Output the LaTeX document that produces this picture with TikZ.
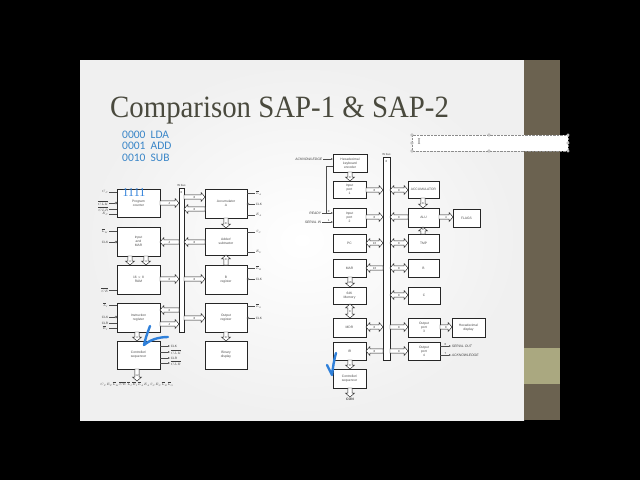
\RequirePackage{fix-cm}
\documentclass[tikz,border=0pt]{standalone}
\usepackage{fontspec}
\usetikzlibrary{arrows.meta,calc}
\newfontfamily\titlefont{Liberation Serif}
\newfontfamily\calib{Carlito}
\newfontfamily\diag{Liberation Sans}
\definecolor{titlecol}{HTML}{4A4A3E}
\definecolor{bluetxt}{HTML}{3A86C8}
\definecolor{penblue}{HTML}{2F80DA}
\definecolor{bandbrown}{HTML}{6B6250}
\definecolor{bandkhaki}{HTML}{AAA880}
\tikzset{
  box/.style={draw=black!85, line width=0.5pt, inner sep=0pt, outer sep=0pt, align=center,
    font=\diag\fontsize{3.3}{3.9}\selectfont, text=black!70, fill=white},
  hol/.style={draw=black!85, fill=white, line width=0.45pt, line join=miter},
  lab/.style={font=\diag\fontsize{2.9}{3}\selectfont, text=black!75, inner sep=0pt},
  sig/.style={font=\diag\fontsize{3.2}{3.5}\selectfont, inner sep=0.6pt, text=black!75},
  sline/.style={draw=black!70, line width=0.4pt},
  pen/.style={draw=penblue, line width=2.4pt, line cap=round, line join=round}
}
% hollow arrows: horizontal / vertical, single / double headed
\newcommand{\harH}[3]{\path[hol] let \p1=(#1), \p2=(#2), \n1={(\x2-\x1)/abs(\x2-\x1)} in
  (\x1,\y1+2.2pt) -- ({\x2-\n1*3.8pt},\y1+2.2pt) -- ({\x2-\n1*3.8pt},\y1+4.4pt) -- (\x2,\y1)
  -- ({\x2-\n1*3.8pt},\y1-4.4pt) -- ({\x2-\n1*3.8pt},\y1-2.2pt) -- (\x1,\y1-2.2pt) -- cycle
  ({(\x1+\x2)/2},\y1) node[lab]{#3};}
\newcommand{\darH}[3]{\path[hol] let \p1=(#1), \p2=(#2), \n1={(\x2-\x1)/abs(\x2-\x1)} in
  ({\x1+\n1*3.8pt},\y1+2.2pt) -- ({\x2-\n1*3.8pt},\y1+2.2pt) -- ({\x2-\n1*3.8pt},\y1+4.4pt) -- (\x2,\y1)
  -- ({\x2-\n1*3.8pt},\y1-4.4pt) -- ({\x2-\n1*3.8pt},\y1-2.2pt) -- ({\x1+\n1*3.8pt},\y1-2.2pt)
  -- ({\x1+\n1*3.8pt},\y1-4.4pt) -- (\x1,\y1) -- ({\x1+\n1*3.8pt},\y1+4.4pt) -- cycle
  ({(\x1+\x2)/2},\y1) node[lab]{#3};}
\newcommand{\harV}[3]{\path[hol] let \p1=(#1), \p2=(#2), \n1={(\y2-\y1)/abs(\y2-\y1)} in
  (\x1+2.2pt,\y1) -- (\x1+2.2pt,{\y2-\n1*3.8pt}) -- (\x1+4.4pt,{\y2-\n1*3.8pt}) -- (\x1,\y2)
  -- (\x1-4.4pt,{\y2-\n1*3.8pt}) -- (\x1-2.2pt,{\y2-\n1*3.8pt}) -- (\x1-2.2pt,\y1) -- cycle
  (\x1,{(\y1+\y2)/2+\n1*0.8pt}) node[lab]{#3};}
\newcommand{\darV}[3]{\path[hol] let \p1=(#1), \p2=(#2), \n1={(\y2-\y1)/abs(\y2-\y1)} in
  (\x1+2.2pt,{\y1+\n1*3.8pt}) -- (\x1+2.2pt,{\y2-\n1*3.8pt}) -- (\x1+4.4pt,{\y2-\n1*3.8pt}) -- (\x1,\y2)
  -- (\x1-4.4pt,{\y2-\n1*3.8pt}) -- (\x1-2.2pt,{\y2-\n1*3.8pt}) -- (\x1-2.2pt,{\y1+\n1*3.8pt})
  -- (\x1-4.4pt,{\y1+\n1*3.8pt}) -- (\x1,\y1) -- (\x1+4.4pt,{\y1+\n1*3.8pt}) -- cycle
  (\x1,{(\y1+\y2)/2}) node[lab]{#3};}
\newcommand{\bx}[6]{\node[box, minimum width={(#4-#2)*1pt}, minimum height={(#5-#3)*1pt}] (#1) at ({(#2+#4)/2},{(#3+#5)/2}) {#6};}
\newcommand{\sigL}[3]{\draw[sline] (#1.west |- 0,#2) -- ++(-8,0) node[sig,left]{#3};}
\newcommand{\sigLc}[3]{\draw[sline] (#1.west |- 0,#2) ++(-2.2,0) -- ++(-5.8,0) node[sig,left]{#3}; \draw[sline] (#1.west |- 0,#2) ++(-1.1,0) circle (1.1);}
\newcommand{\sigR}[3]{\draw[sline] (#1.east |- 0,#2) -- ++(8,0) node[sig,right]{#3};}
\newcommand{\sigRc}[3]{\draw[sline] (#1.east |- 0,#2) ++(2.2,0) -- ++(5.8,0) node[sig,right]{#3}; \draw[sline] (#1.east |- 0,#2) ++(1.1,0) circle (1.1);}
\begin{document}
\begin{tikzpicture}[x=1pt,y=-1pt]
\useasboundingbox (0,0) rectangle (640,480);
\fill[black] (0,0) rectangle (640,480);
% slide
\shade[inner color=white, outer color=black!6] (80,60) rectangle (524,420);
\fill[bandbrown] (524,60) rectangle (560,420);
\fill[bandkhaki] (524,348) rectangle (560,384);
% title
\node[anchor=base west, inner sep=0pt, text=titlecol, font=\titlefont\fontsize{31}{34}\selectfont] (title) at (110,117) {\scalebox{0.93}[1]{Comparison SAP-1 \& SAP-2}};
% blue notes
\node[anchor=north west, inner sep=0pt, text=bluetxt, align=left, font=\calib\fontsize{11.5}{11.7}\selectfont] (notes) at (122,130.5) {0000\ \ LDA\\0001\ \ ADD\\0010\ \ SUB};
% text box placeholder
\draw[densely dotted, draw=black!45, line width=0.4pt, fill=white] (412,135) rectangle (568,151);
\foreach \hx/\hy in {412/135,489/135,568/135,412/143,568/143,412/151,489/151,568/151}
  \draw[black!45, fill=white, line width=0.3pt] (\hx,\hy) circle (1.3);
\node[inner sep=0pt, text=black!55, font=\titlefont\fontsize{9}{9}\selectfont] (cursor) at (419,142) {I};

% ================= SAP-1 =================
\bx{pc}{117}{189}{160}{217}{Program\\counter}
\bx{mar}{117}{227}{160}{256}{Input\\and\\MAR}
\bx{ram}{117}{265}{160}{294}{16 $\times$ 8\\RAM}
\bx{ir}{117}{303}{160}{332}{Instruction\\register}
\bx{cs}{117}{341}{160}{369}{Controller/\\sequencer}
\bx{acc}{205}{189}{247}{218}{Accumulator\\A}
\bx{add}{205}{228}{247}{255}{Adder/\\subtractor}
\bx{breg}{205}{265}{247}{294}{B\\register}
\bx{outr}{205}{303}{247}{332}{Output\\register}
\bx{disp}{205}{341}{247}{369}{Binary\\display}
\node[box, minimum width=5pt, minimum height=144pt] (bus) at (181.5,260) {};
\node[lab, anchor=south] (buslab) at (181.5,187) {W bus};
\node[lab] (bustop) at (181.5,192) {8};

\harH{pc.east |- 0,203}{bus.west |- 0,203}{4}
\harH{bus.west |- 0,242}{mar.east |- 0,242}{4}
\harV{130,0 |- mar.south}{130,0 |- ram.north}{4}
\harV{146,0 |- mar.south}{146,0 |- ram.north}{4}
\harH{ram.east |- 0,279}{bus.west |- 0,279}{8}
\harH{bus.west |- 0,310}{ir.east |- 0,310}{8}
\harH{ir.east |- 0,324}{bus.west |- 0,324}{4}
\harV{137,0 |- ir.south}{137,0 |- cs.north}{4}
\node[sig, anchor=north] (ctw) at (137,381) {$C_PE_P\overline{L}_M\overline{CE}\;\overline{L}_I\overline{E}_I\overline{L}_AE_AS_UE_U\overline{L}_B\overline{L}_O$};
\harV{137,0 |- cs.south}{ctw.north}{12}
\harH{bus.east |- 0,197}{acc.west |- 0,197}{8}
\harH{acc.west |- 0,209}{bus.east |- 0,209}{8}
\harV{226,0 |- acc.south}{226,0 |- add.north}{8}
\harH{add.west |- 0,242}{bus.east |- 0,242}{8}
\harV{226,0 |- breg.north}{226,0 |- add.south}{8}
\harH{bus.east |- 0,279}{breg.west |- 0,279}{8}
\harH{bus.east |- 0,318}{outr.west |- 0,318}{8}
\harV{226,0 |- outr.south}{226,0 |- disp.north}{8}

\sigL{pc}{192}{$C_P$}
\sigLc{pc}{203}{$\overline{CLK}$}
\sigL{pc}{209}{$\overline{CLR}$}
\sigL{pc}{214}{$E_P$}
\sigL{mar}{231}{$\overline{L}_M$}
\sigLc{mar}{242}{CLK}
\sigL{ram}{290}{$\overline{CE}$}
\sigL{ir}{305}{$\overline{L}_I$}
\sigLc{ir}{317}{CLK}
\sigL{ir}{323}{CLR}
\sigL{ir}{328}{$\overline{E}_I$}
\sigR{acc}{193}{$\overline{L}_A$}
\sigRc{acc}{204}{CLK}
\sigR{acc}{215}{$E_A$}
\sigR{add}{232}{$S_U$}
\sigR{add}{252}{$E_U$}
\sigR{breg}{268}{$\overline{L}_B$}
\sigRc{breg}{279}{CLK}
\sigR{outr}{306}{$\overline{L}_O$}
\sigRc{outr}{318}{CLK}
\foreach \yy/\tt in {346/CLK, 352/$\overline{CLK}$, 358/CLR, 363/$\overline{CLR}$}
  \draw[sline, -{Latex[length=2pt,width=1.8pt]}] (cs.east |- 0,\yy) -- ++(10,0) node[sig,right]{\tt};

% ================= SAP-2 =================
\bx{kbd}{333}{154}{367}{172}{Hexadecimal\\keyboard\\encoder}
\bx{in1}{333}{181}{366}{198}{Input\\port\\1}
\bx{in2}{333}{208}{366}{227}{Input\\port\\2}
\bx{pc2}{333}{234}{366}{252}{PC}
\bx{mar2}{333}{259}{366}{277}{MAR}
\bx{mem}{333}{287}{366}{304}{64K\\Memory}
\bx{mdr}{333}{318}{366}{337}{MDR}
\bx{ir2}{333}{342}{366}{360}{IR}
\bx{cs2}{333}{369}{366}{388}{Controller/\\sequencer}
\bx{accu}{408}{181}{439}{198}{ACCUMULATOR}
\bx{alu}{408}{208}{439}{227}{ALU}
\bx{tmp}{408}{234}{439}{252}{TMP}
\bx{b2}{408}{259}{439}{277}{B}
\bx{c2}{408}{287}{440}{304}{C}
\bx{op3}{408}{318}{440}{337}{Output\\port\\3}
\bx{op4}{408}{342}{440}{360}{Output\\port\\4}
\bx{flags}{453}{209}{480}{227}{FLAGS}
\bx{hexd}{452}{318}{485}{337}{Hexadecimal\\display}
\node[box, minimum width=7pt, minimum height=203pt] (bus2) at (386.5,258.5) {};
\node[lab, anchor=south] (bus2lab) at (386.5,156) {W bus};
\node[lab] (bus2top) at (386.5,161) {8};

\harV{350,0 |- kbd.south}{350,0 |- in1.north}{8}
\harH{in1.east |- 0,190}{bus2.west |- 0,190}{8}
\harH{in2.east |- 0,217}{bus2.west |- 0,217}{8}
\darH{pc2.east |- 0,243}{bus2.west |- 0,243}{16}
\harH{bus2.west |- 0,268}{mar2.east |- 0,268}{16}
\harV{350,0 |- mar2.south}{350,0 |- mem.north}{16}
\darV{350,0 |- mem.south}{350,0 |- mdr.north}{8}
\darH{mdr.east |- 0,327}{bus2.west |- 0,327}{8}
\harH{bus2.west |- 0,351}{ir2.east |- 0,351}{8}
\harV{350,0 |- ir2.south}{350,0 |- cs2.north}{8}
\node[sig, anchor=north, font=\diag\bfseries\fontsize{3.4}{3.6}\selectfont] (con) at (350,397) {CON};
\harV{350,0 |- cs2.south}{con.north}{}
\darH{bus2.east |- 0,190}{accu.west |- 0,190}{8}
\harV{423,0 |- accu.south}{423,0 |- alu.north}{8}
\harH{alu.west |- 0,217}{bus2.east |- 0,217}{8}
\harH{alu.east |- 0,217}{flags.west |- 0,217}{4}
\harV{423,0 |- tmp.north}{423,0 |- alu.south}{8}
\darH{bus2.east |- 0,243}{tmp.west |- 0,243}{8}
\darH{bus2.east |- 0,268}{b2.west |- 0,268}{8}
\darH{bus2.east |- 0,295}{c2.west |- 0,295}{8}
\harH{bus2.east |- 0,327}{op3.west |- 0,327}{8}
\harH{op3.east |- 0,327}{hexd.west |- 0,327}{8}
\harH{bus2.east |- 0,351}{op4.west |- 0,351}{8}

% SAP-2 serial / handshake lines
\node[sig, anchor=west, font=\diag\itshape\fontsize{3.4}{3.6}\selectfont] (sout) at (451,346) {SERIAL OUT};
\node[sig, anchor=west, font=\diag\itshape\fontsize{3.4}{3.6}\selectfont] (ackout) at (451,355) {ACKNOWLEDGE};
\draw[sline, -{Latex[length=2pt,width=1.8pt]}] (op4.east |- sout) -- node[lab, above=0.6pt]{0} (sout.west);
\draw[sline, -{Latex[length=2pt,width=1.8pt]}] (op4.east |- ackout) -- node[lab, above=0.6pt]{7} (ackout.west);
\node[sig, anchor=east, font=\diag\itshape\fontsize{3.4}{3.6}\selectfont] (ackin) at (323,159) {ACKNOWLEDGE};
\draw[sline, -{Latex[length=2pt,width=1.8pt]}] (ackin.east) -- (kbd.west |- ackin);
\node[sig, anchor=east, font=\diag\itshape\fontsize{3.4}{3.6}\selectfont] (ready) at (322,213) {READY};
\node[sig, anchor=east, font=\diag\itshape\fontsize{3.4}{3.6}\selectfont] (serin) at (322,222) {SERIAL IN};
\draw[sline, -{Latex[length=2pt,width=1.8pt]}] (ready.east) -- node[lab, above=0.6pt, pos=0.6]{0} (in2.west |- ready);
\draw[sline, -{Latex[length=2pt,width=1.8pt]}] (serin.east) -- node[lab, above=0.6pt, pos=0.6]{1} (in2.west |- serin);
\coordinate (j1) at (326,166);
\coordinate (j2) at (326,213);
\draw[sline] (kbd.west |- j1) -- (j1) -- (j2);

% blue annotations
\node[inner sep=0pt, text=penblue, font=\titlefont\fontsize{12}{12}\selectfont] (ones) at (134,193) {1111};
\draw[pen] (150,326) .. controls (147,334) and (145,340) .. (144,345) .. controls (150,340) and (158,337) .. (168,337);
\draw[pen] (327,365) -- (332,375) .. controls (333,367) and (334,360) .. (336,353);
\end{tikzpicture}
\end{document}
